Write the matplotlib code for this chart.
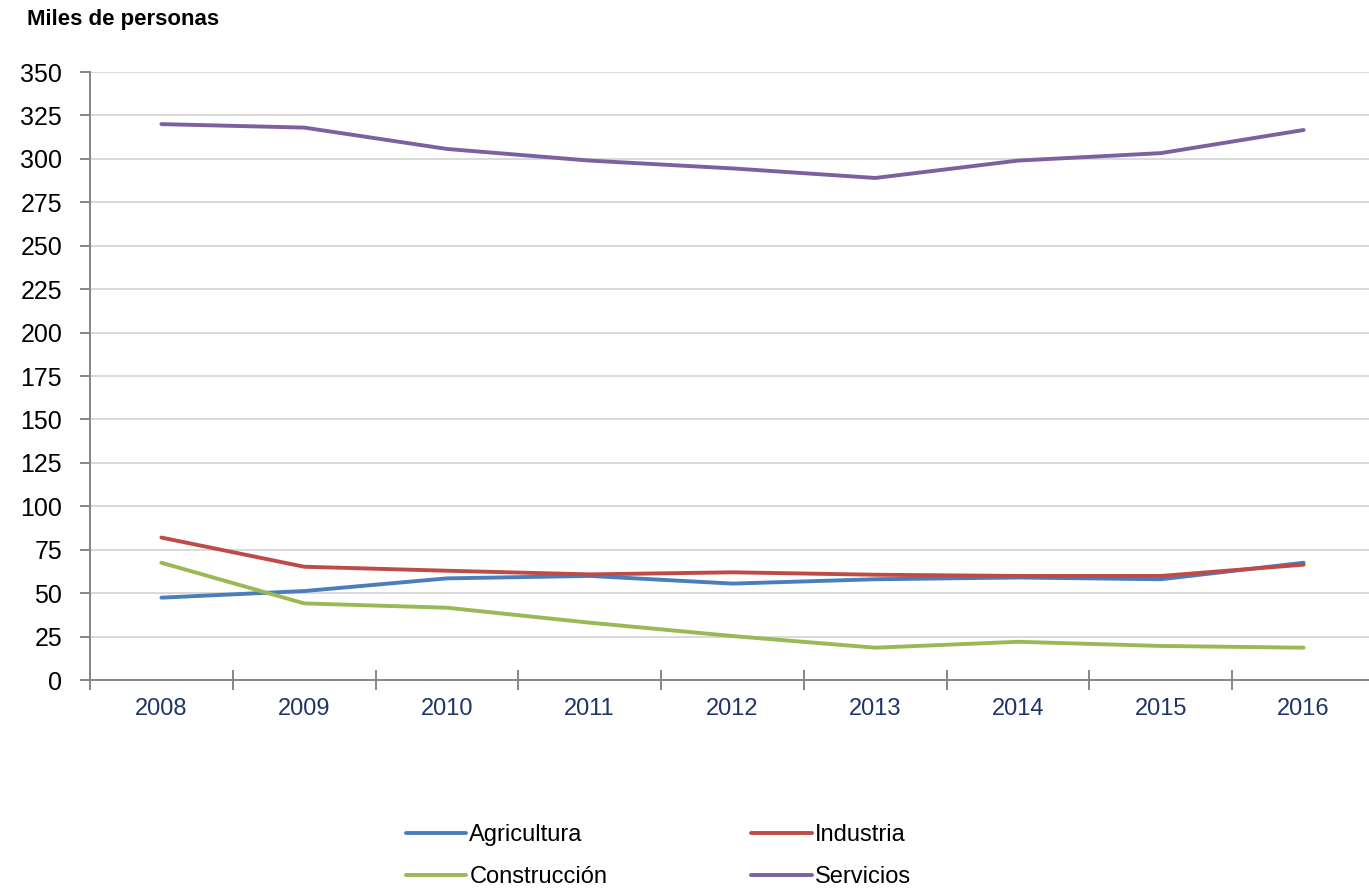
import numpy as np
import matplotlib.pyplot as plt

plt.rcParams['font.family'] = ['Liberation Sans', 'DejaVu Sans']

years = ['2008', '2009', '2010', '2011', '2012', '2013', '2014', '2015', '2016']
agricultura = [47.4, 51.2, 58.5, 59.9, 55.5, 58.0, 59.0, 58.0, 67.5]
industria = [82.0, 65.2, 62.9, 60.8, 62.0, 60.6, 59.9, 59.9, 66.4]
construccion = [67.5, 44.1, 41.6, 33.0, 25.3, 18.6, 22.0, 19.6, 18.6]
servicios = [320.0, 318.0, 305.7, 299.0, 294.5, 289.0, 299.0, 303.3, 316.6]

colors = {
    'Agricultura': '#4A7EBB',
    'Industria': '#BE4B48',
    'Construcción': '#98B954',
    'Servicios': '#7D60A0',
}

fig = plt.figure(figsize=(13.69, 8.91), dpi=100)
ax = fig.add_axes([90 / 1369, 1 - 680 / 891, 1285 / 1369, 608 / 891])

x = np.arange(len(years))
lines = {}
for name, vals in [('Agricultura', agricultura), ('Industria', industria),
                   ('Construcción', construccion), ('Servicios', servicios)]:
    lines[name], = ax.plot(x, vals, color=colors[name], lw=2.8,
                           solid_capstyle='round', label=name, zorder=3)

ax.set_xlim(-0.5, len(years) - 0.5)
ax.set_ylim(0, 350)
ax.set_yticks(np.arange(0, 351, 25))
ax.yaxis.grid(True, color='#D9D9D9', lw=1.4)
ax.set_axisbelow(True)

ax.set_xticks(x)
ax.set_xticklabels(years)
ax.set_xticks(np.arange(-0.5, len(years)), minor=True)
ax.tick_params(axis='x', which='major', length=0, pad=13,
               labelsize=17, labelcolor='#1F3568')
ax.tick_params(axis='x', which='minor', length=15, direction='inout',
               color='#868686', width=1.4)
ax.tick_params(axis='y', length=7, color='#868686', width=1.4,
               labelsize=18, labelcolor='black', pad=13)

for s in ['top', 'right']:
    ax.spines[s].set_visible(False)
for s in ['left', 'bottom']:
    ax.spines[s].set_color('#868686')
    ax.spines[s].set_linewidth(1.4)

fig.text(27 / 1369, 1 - 20 / 891, 'Miles de personas', fontsize=16,
         fontweight='bold', va='center', ha='left')

order = ['Agricultura', 'Construcción', 'Industria', 'Servicios']
fig.legend([lines[n] for n in order], order, ncol=2, loc='center',
           bbox_to_anchor=(0.481, 1 - 856 / 891), frameon=False,
           fontsize=17, handlelength=2.55, handletextpad=0.15,
           columnspacing=6.1, labelspacing=0.85)

fig.savefig('out.png', dpi=100)
